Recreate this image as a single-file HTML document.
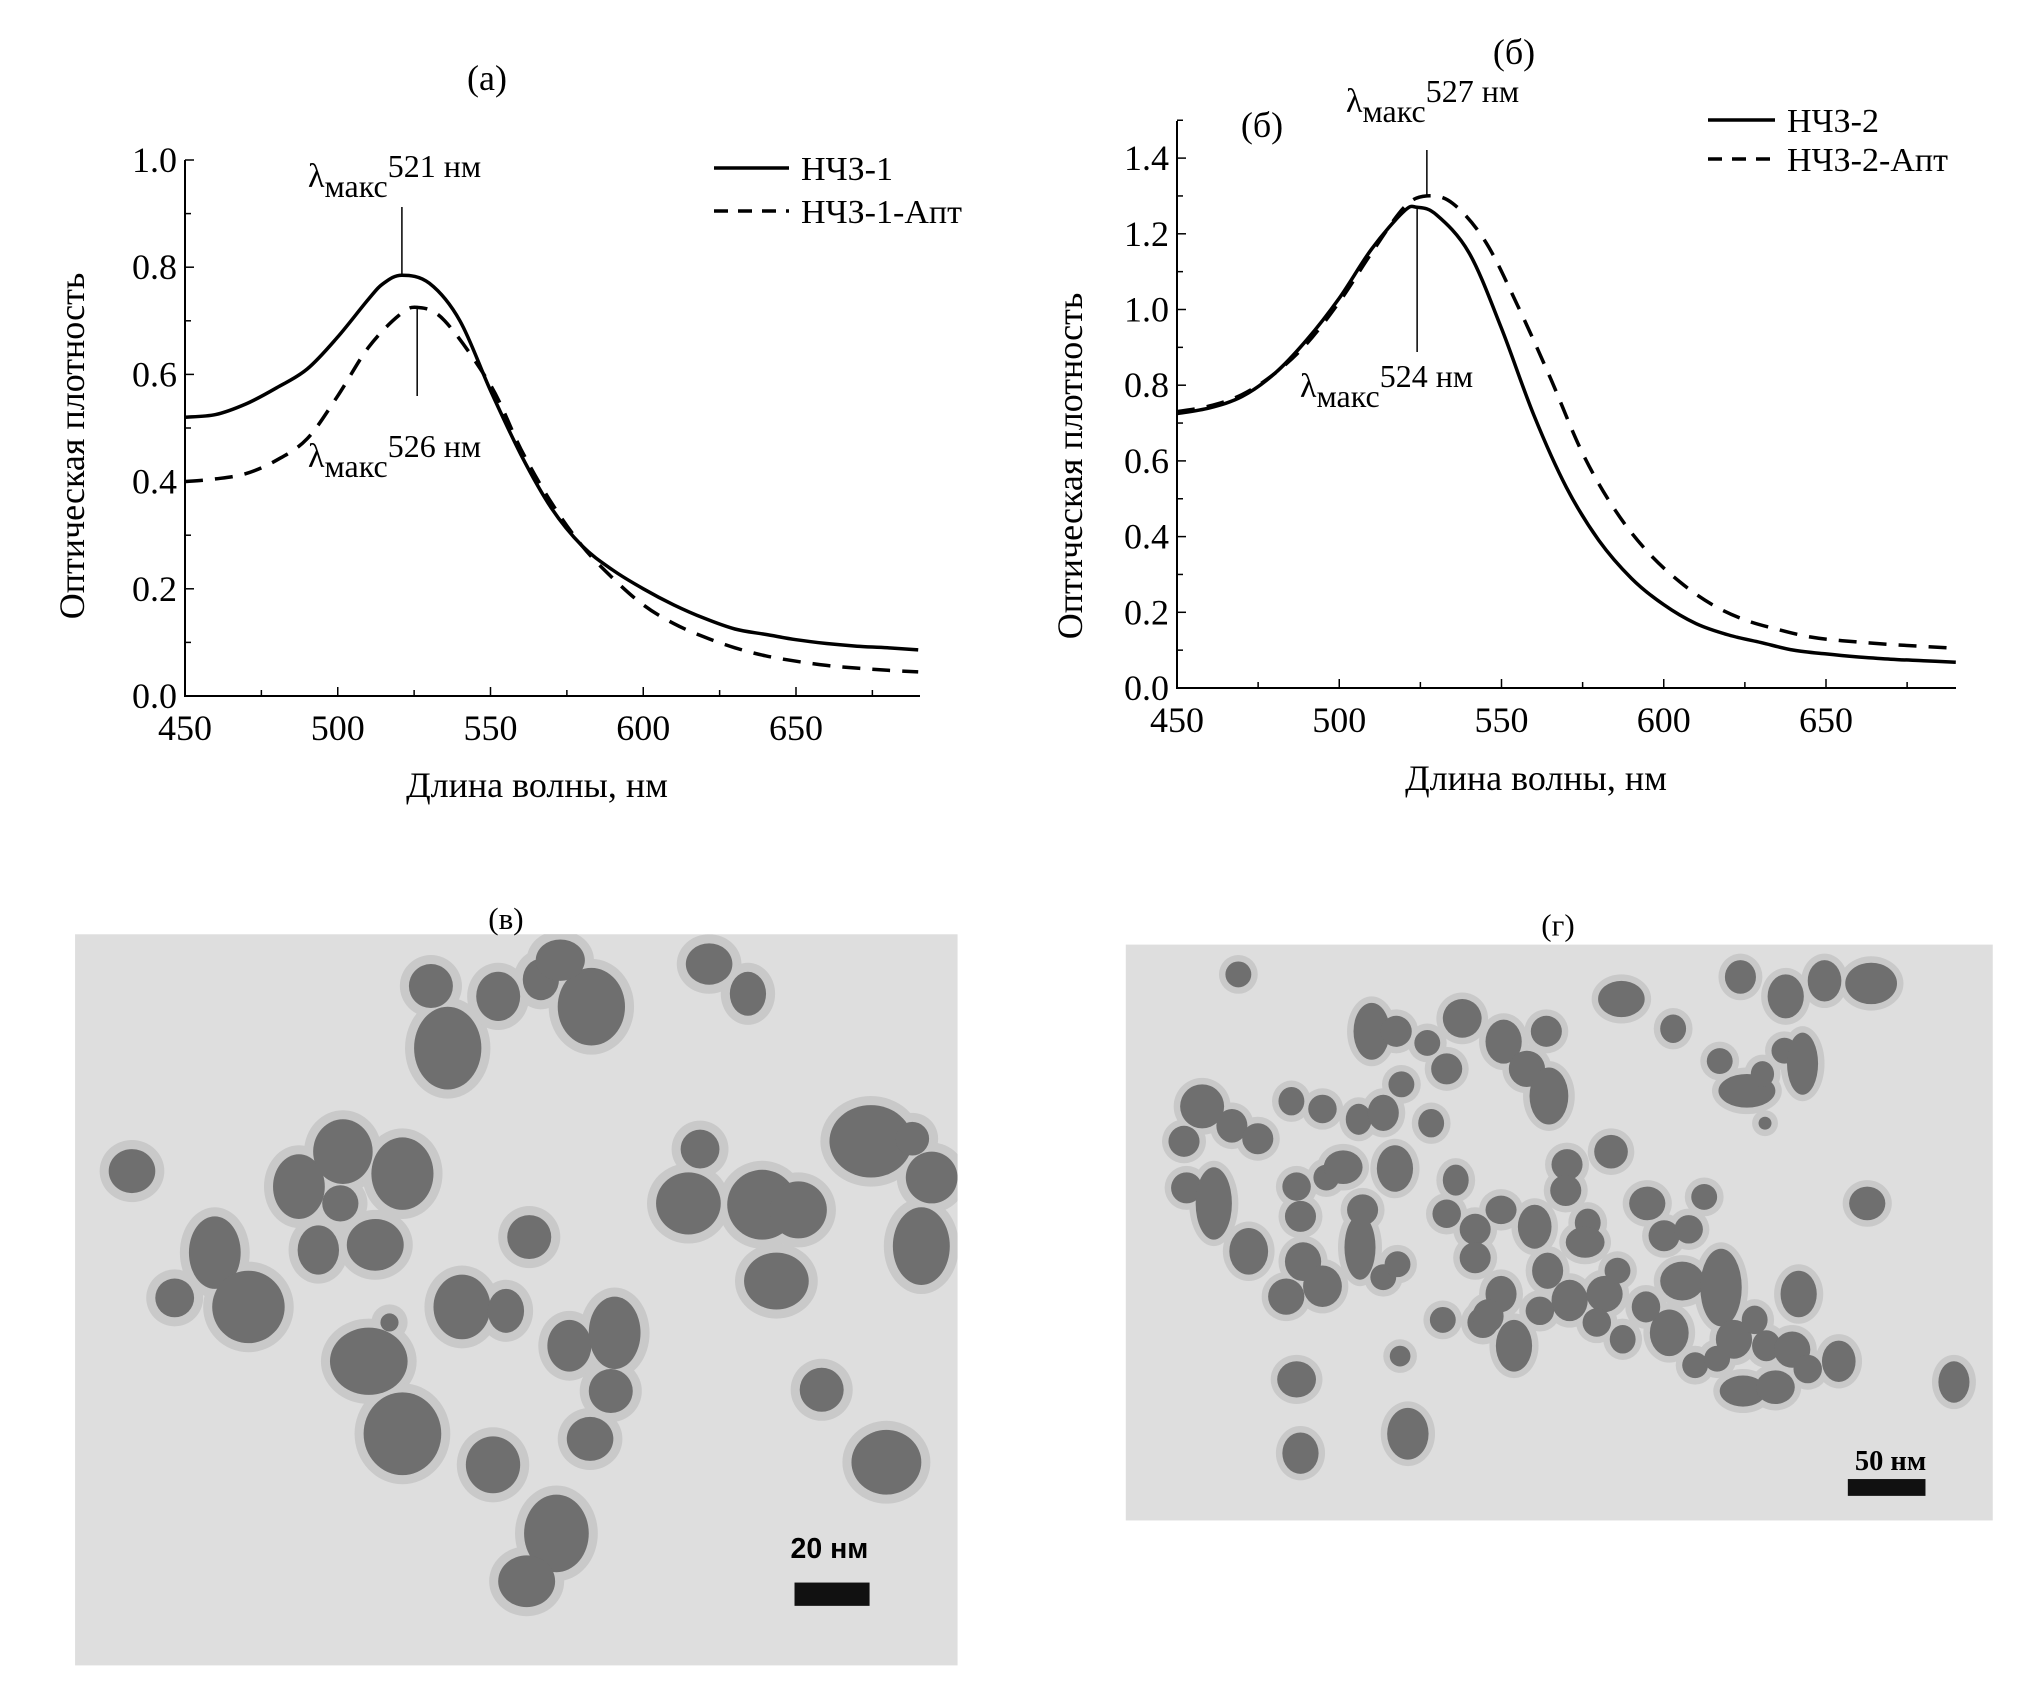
<!DOCTYPE html>
<html><head><meta charset="utf-8"><style>
html,body{margin:0;padding:0;background:#fff}
svg{display:block}
text{font-family:"Liberation Serif",serif;fill:#000}
</style></head><body>
<svg id="root" width="2018" height="1698" viewBox="0 0 2018 1698" xmlns="http://www.w3.org/2000/svg">
<g id="chartA"></g>
<g id="chartB"></g>
<g id="temV"></g>
<g id="temG"></g>
</svg>
<script>
// ---- Chart (a) data ----
const aX1 = [450,460,470,480,490,500,510,515,521,530,540,550,560,570,580,590,600,610,620,630,640,650,660,670,680,690];
const aY1 = [0.52,0.525,0.545,0.575,0.61,0.67,0.74,0.77,0.785,0.77,0.70,0.57,0.45,0.35,0.28,0.235,0.2,0.17,0.145,0.125,0.115,0.105,0.098,0.093,0.09,0.086];
const aX2 = [450,460,470,480,490,500,510,520,526,535,550,560,570,580,590,600,610,620,630,640,650,660,670,680,690];
const aY2 = [0.40,0.405,0.415,0.44,0.48,0.56,0.65,0.71,0.725,0.70,0.58,0.46,0.36,0.28,0.22,0.17,0.135,0.11,0.09,0.075,0.065,0.057,0.052,0.048,0.045];
const aXTicks = [450,500,550,600,650];
const aYTicks = [0.0,0.2,0.4,0.6,0.8,1.0];
const aYLabels = ["0.0","0.2","0.4","0.6","0.8","1.0"];
// ---- Chart (б) data ----
const bX1 = [450,460,470,480,490,500,510,520,524,530,540,550,560,570,580,590,600,610,620,630,640,650,660,670,680,690];
const bY1 = [0.725,0.74,0.77,0.83,0.92,1.03,1.16,1.26,1.27,1.25,1.15,0.95,0.72,0.53,0.39,0.29,0.22,0.17,0.14,0.12,0.10,0.09,0.082,0.076,0.072,0.068];
const bX2 = [450,460,470,480,490,500,510,520,527,535,545,555,565,575,585,595,605,615,625,635,645,655,670,690];
const bY2 = [0.73,0.745,0.775,0.83,0.91,1.02,1.15,1.27,1.30,1.28,1.18,1.01,0.82,0.62,0.47,0.36,0.28,0.22,0.18,0.155,0.135,0.125,0.115,0.105];
const bXTicks = [450,500,550,600,650];
const bYTicks = [0.0,0.2,0.4,0.6,0.8,1.0,1.2,1.4];
const bYLabels = ["0.0","0.2","0.4","0.6","0.8","1.0","1.2","1.4"];

const NS="http://www.w3.org/2000/svg";
function mk(parent,tag,attrs,txt){const e=document.createElementNS(NS,tag);for(const k in attrs)e.setAttribute(k,attrs[k]);if(txt!==undefined)e.textContent=txt;parent.appendChild(e);return e;}

function smooth(pts){
  let d='M'+pts[0][0].toFixed(1)+','+pts[0][1].toFixed(1);
  for(let i=0;i<pts.length-1;i++){
    const p0=pts[Math.max(0,i-1)],p1=pts[i],p2=pts[i+1],p3=pts[Math.min(pts.length-1,i+2)];
    const c1x=p1[0]+(p2[0]-p0[0])/6,c1y=p1[1]+(p2[1]-p0[1])/6;
    const c2x=p2[0]-(p3[0]-p1[0])/6,c2y=p2[1]-(p3[1]-p1[1])/6;
    d+=` C${c1x.toFixed(1)},${c1y.toFixed(1)} ${c2x.toFixed(1)},${c2y.toFixed(1)} ${p2[0].toFixed(1)},${p2[1].toFixed(1)}`;
  }
  return d;
}

function lambda(g,x,y,val){
  const t=mk(g,'text',{x:x,y:y,'font-size':34});
  
  
  const s1=document.createElementNS(NS,'tspan');s1.textContent='λ';t.appendChild(s1);
  const s2=document.createElementNS(NS,'tspan');s2.setAttribute('dy','10');s2.setAttribute('font-size','32');s2.textContent='макс';t.appendChild(s2);
  const s3=document.createElementNS(NS,'tspan');s3.setAttribute('dy','-20');s3.setAttribute('font-size','32');s3.textContent=val+' нм';t.appendChild(s3);
}

function drawChart(g,cfg){
  const sx=v=>cfg.x0+(v-450)*(cfg.x1-cfg.x0)/200;
  const sy=v=>cfg.y0-(v)*cfg.py;
  const ax=mk(g,'path',{d:`M${cfg.x0},${cfg.yTop} V${cfg.y0} H${cfg.xEnd}`,fill:'none',stroke:'#000','stroke-width':2});
  
  
  for(let v=450;v<=690;v+=25){const x=sx(v);const big=(v%50===0);
    const t=mk(g,'line',{x1:x,x2:x,y1:cfg.y0,y2:cfg.y0-(big?9:6),stroke:'#000','stroke-width':1.5});
    
    }
  cfg.xt.forEach(v=>{const t=mk(g,'text',{x:sx(v),y:cfg.y0+44,'font-size':36,'text-anchor':'middle'},String(v));
    
    });
  for(let v=0;v<=cfg.ymaxTick+1e-9;v+=0.1){const y=sy(v);
    const t=mk(g,'line',{x1:cfg.x0,x2:cfg.x0+(Math.round(v*10)%2===0?9:6),y1:y,y2:y,stroke:'#000','stroke-width':1.5});
    
    }
  cfg.yt.forEach((v,i)=>{const t=mk(g,'text',{x:cfg.x0-8,y:sy(v)+12,'font-size':36,'text-anchor':'end'},cfg.yl[i]);
    
    });
  const p1=mk(g,'path',{d:smooth(cfg.s1x.map((v,i)=>[sx(v),sy(cfg.s1y[i])])),fill:'none',stroke:'#000','stroke-width':3.5,'stroke-linejoin':'round'});
  
  
  const p2=mk(g,'path',{d:smooth(cfg.s2x.map((v,i)=>[sx(v),sy(cfg.s2y[i])])),fill:'none',stroke:'#000','stroke-width':3.5,'stroke-dasharray':'18 12'});
  
  
  const yt=mk(g,'text',{x:0,y:0,'font-size':36,'text-anchor':'middle',transform:`translate(${cfg.ytx},${cfg.yty}) rotate(-90)`},'Оптическая плотность');
  
  
  const xt=mk(g,'text',{x:cfg.xtx,y:cfg.xty,'font-size':36,'text-anchor':'middle'},'Длина волны, нм');
  
  
  const l1=mk(g,'line',{x1:cfg.lx1,x2:cfg.lx2,y1:cfg.ly1,y2:cfg.ly1,stroke:'#000','stroke-width':3.5});
  
  
  const l2=mk(g,'line',{x1:cfg.lx1,x2:cfg.lx2,y1:cfg.ly2,y2:cfg.ly2,stroke:'#000','stroke-width':3.5,'stroke-dasharray':'14 10'});
  
  
  const lt1=mk(g,'text',{x:cfg.lx2+12,y:cfg.ly1+12,'font-size':34},cfg.n1);
  
  
  const lt2=mk(g,'text',{x:cfg.lx2+12,y:cfg.ly2+12,'font-size':34},cfg.n2);
  
  
  return {sx,sy};
}

const gA=document.getElementById('chartA');
const A=drawChart(gA,{x0:185,x1:796,xEnd:920,y0:696,py:536,yTop:160,ymaxTick:1.0,xt:aXTicks,yt:aYTicks,yl:aYLabels,
  s1x:aX1,s1y:aY1,s2x:aX2,s2y:aY2,ytx:84,yty:446,xtx:537,xty:797,lx1:714,lx2:789,ly1:168,ly2:211,n1:'НЧЗ-1',n2:'НЧЗ-1-Апт'});
let t=mk(gA,'text',{x:487,y:90,'font-size':36,'text-anchor':'middle'},'(а)');


let ml=mk(gA,'line',{x1:A.sx(521),x2:A.sx(521),y1:A.sy(0.785),y2:207,stroke:'#000','stroke-width':1.5});


ml=mk(gA,'line',{x1:A.sx(526),x2:A.sx(526),y1:A.sy(0.725),y2:396,stroke:'#000','stroke-width':1.5});


lambda(gA,308,187,'521');
lambda(gA,308,467,'526');

const gB=document.getElementById('chartB');
const B=drawChart(gB,{x0:1177,x1:1826,xEnd:1956,y0:688,py:378.5,yTop:121,ymaxTick:1.5,xt:bXTicks,yt:bYTicks,yl:bYLabels,
  s1x:bX1,s1y:bY1,s2x:bX2,s2y:bY2,ytx:1082,yty:466,xtx:1536,xty:790,lx1:1708,lx2:1775,ly1:120,ly2:159,n1:'НЧЗ-2',n2:'НЧЗ-2-Апт'});
t=mk(gB,'text',{x:1514,y:64,'font-size':36,'text-anchor':'middle'},'(б)');


t=mk(gB,'text',{x:1262,y:137,'font-size':36,'text-anchor':'middle'},'(б)');


ml=mk(gB,'line',{x1:B.sx(527),x2:B.sx(527),y1:B.sy(1.30),y2:150,stroke:'#000','stroke-width':1.5});


ml=mk(gB,'line',{x1:B.sx(524),x2:B.sx(524),y1:B.sy(1.27),y2:352,stroke:'#000','stroke-width':1.5});


lambda(gB,1346,112,'527');
lambda(gB,1300,397,'524');

// ---- TEM images ----
const vParticles=[[333,762,17,17],[346,810,26,32],[385,770,17,19],[418,757,14,16],[457,778,26,30],[433,742,19,16],[548,745,18,16],[578,768,14,17],
[102,905,18,17],[166,968,20,28],[135,1003,15,15],[192,1010,28,28],[231,917,20,25],[265,890,23,25],[311,907,24,28],[263,930,14,14],[246,966,16,19],[290,962,22,20],
[409,956,17,17],[301,1022,7,7],[285,1052,30,26],[311,1108,30,32],[357,1010,22,25],[391,1013,14,17],[381,1132,21,22],[440,1040,17,20],[475,1030,20,28],[456,1112,18,17],[472,1075,17,17],[430,1185,25,30],[407,1222,22,20],
[532,930,25,24],[541,888,15,15],[589,931,27,27],[600,990,25,22],[617,935,22,22],[673,882,32,28],[705,880,13,13],[720,910,20,20],[712,963,22,30],[635,1074,17,17],[685,1130,27,25]];
const gParticles=[[957,753,10,10],[1060,797,14,22],[1079,797,12,12],[1130,787,15,15],[1103,806,10,10],[1162,805,14,17],[1195,797,12,12],[1180,826,14,14],[1253,772,18,14],[1293,795,10,11],[1345,755,12,13],[1380,770,14,17],[1410,758,13,16],[1446,760,20,16],[1329,820,10,10],[1350,843,22,13],[1379,812,10,10],[1393,822,12,24],[1362,830,9,10],[1364,868,5,5],
[929,855,17,17],[952,870,12,13],[915,882,12,12],[917,918,12,12],[938,930,14,28],[972,880,12,12],[998,851,10,11],[1022,857,11,11],[1050,865,10,12],[1069,860,12,14],[1083,838,10,10],[1106,868,10,11],[1118,826,12,12],[1078,903,14,18],[1125,912,10,12],[1197,847,15,22],[1211,900,12,12],[1245,890,13,13],[1227,945,10,11],
[1002,917,11,11],[1025,910,10,10],[1053,935,12,12],[1038,902,15,13],[1005,940,12,12],[1007,975,14,15],[965,967,15,18],[994,1002,14,14],[1022,994,15,16],[1051,964,12,25],[1069,987,10,10],[1080,977,10,10],
[1118,938,11,11],[1140,950,12,12],[1160,935,12,11],[1186,948,13,17],[1210,920,12,12],[1140,972,12,12],[1160,1000,12,14],[1170,1040,14,20],[1196,982,12,14],[1225,960,15,12],[1213,1005,14,16],[1240,1000,14,14],[1234,1022,11,11],[1146,1022,12,12],[1190,1013,11,11],
[1273,930,14,13],[1286,955,12,12],[1305,950,11,11],[1317,925,10,10],[1300,990,17,15],[1290,1030,15,18],[1250,982,10,10],[1272,1010,11,12],[1254,1035,10,11],[1330,995,16,30],[1340,1035,14,15],[1356,1020,10,11],[1365,1040,11,12],[1390,1000,14,18],[1385,1043,14,14],[1347,1075,18,12],[1372,1072,15,13],[1397,1058,11,11],[1421,1052,13,16],[1443,930,14,13],[1510,1068,12,16],
[1002,1066,15,14],[1005,1123,14,16],[1088,1108,16,20],[1082,1048,8,8],[1115,1020,10,10],[1150,1017,12,13],[1310,1055,10,10],[1327,1050,10,10]];
const S=1.294;
function tem(g,rect,parts,halo,label,labelPos,bar,barText,barTextPos,barFont){
  const inner=mk(g,'g',{transform:`scale(${S})`});
  const bg=mk(inner,'rect',{x:rect[0],y:rect[1],width:rect[2],height:rect[3],fill:'#dedede'});
  
  
  const clip='clip'+rect[0];
  const cp=mk(inner,'clipPath',{id:clip});mk(cp,'rect',{x:rect[0],y:rect[1],width:rect[2],height:rect[3]});
  const pg=mk(inner,'g',{'clip-path':`url(#${clip})`});
  parts.forEach(p=>{const h=mk(pg,'ellipse',{cx:p[0],cy:p[1],rx:p[2]+halo,ry:p[3]+halo,fill:'#c9c9c9'});
    
    });
  parts.forEach(p=>{const e=mk(pg,'ellipse',{cx:p[0],cy:p[1],rx:p[2],ry:p[3],fill:'#6f6f6f'});
    
    });
  const lb=mk(inner,'text',{x:labelPos[0],y:labelPos[1],'font-size':24,'text-anchor':'middle',fill:'#333'},label);
  
  
  const b=mk(inner,'rect',{x:bar[0],y:bar[1],width:bar[2],height:bar[3],fill:'#111'});
  
  
  const bt=mk(inner,'text',{x:barTextPos[0],y:barTextPos[1],'font-size':22,'font-weight':'bold','text-anchor':'middle',style:`font-family:${barFont}`},barText);
  
  
}
tem(document.getElementById('temV'),[58,722,682,565],vParticles,7,'(в)',[391,718],[614,1223,58,18],'20 нм',[641,1204],'"Liberation Sans",sans-serif');
tem(document.getElementById('temG'),[870,730,670,445],gParticles,5,'(г)',[1204,723],[1428,1143,60,13],'50 нм',[1461,1136],'"Liberation Serif",serif');
</script>
</body></html>
